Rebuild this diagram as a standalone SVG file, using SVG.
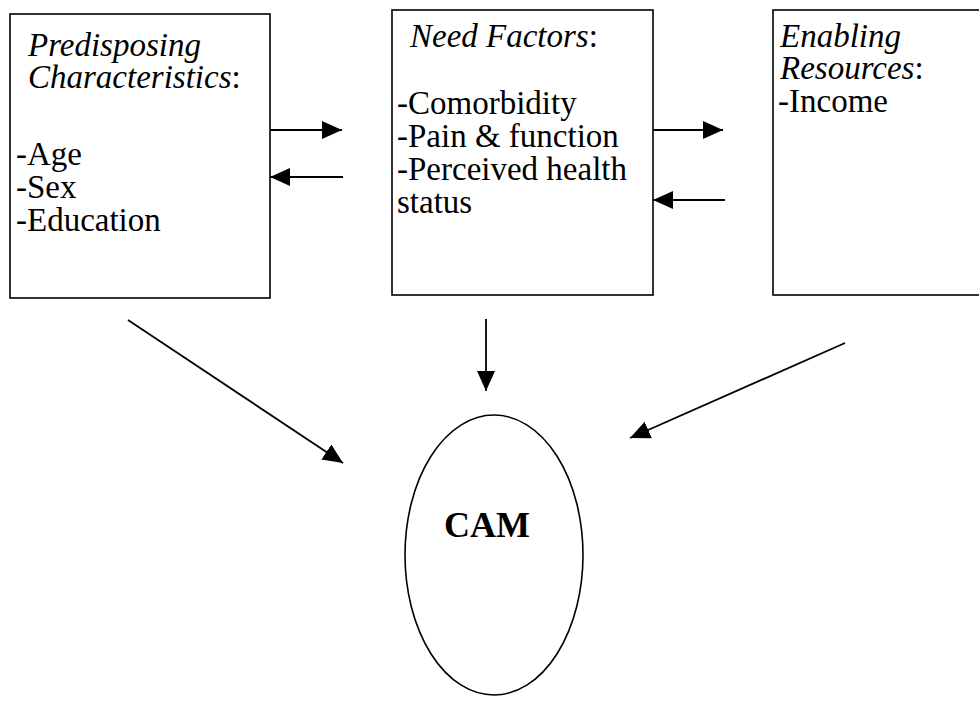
<svg xmlns="http://www.w3.org/2000/svg" width="979" height="701" viewBox="0 0 979 701">
  <style>
    .box { fill: #fff; stroke: #000; stroke-width: 1.6; }
    .txt { font-family: "Liberation Serif", "Times New Roman", serif; font-size: 33px; fill: #000; }
    .hd { font-style: italic; }
    .edge { stroke: #000; stroke-width: 1.8; fill: none; marker-end: url(#head); }
  </style>
  <defs>
    <marker id="head" markerUnits="userSpaceOnUse" markerWidth="22" markerHeight="20" refX="20" refY="9" orient="auto">
      <path d="M0,0 L20,9 L0,18 Z" fill="#000"/>
    </marker>
  </defs>
  <rect width="979" height="701" fill="#fff"/>

  <g id="predisposing">
    <rect class="box" x="10" y="14" width="260" height="284"/>
    <text class="txt hd" x="28" y="56">Predisposing</text>
    <text class="txt" x="28" y="88"><tspan class="hd">Characteristics</tspan>:</text>
    <text class="txt" x="16" y="165">-Age</text>
    <text class="txt" x="16" y="198">-Sex</text>
    <text class="txt" x="16" y="231">-Education</text>
  </g>

  <g id="need">
    <rect class="box" x="392" y="10" width="261" height="285"/>
    <text class="txt" x="410" y="47"><tspan class="hd">Need Factors</tspan>:</text>
    <text class="txt" x="397" y="114">-Comorbidity</text>
    <text class="txt" x="397" y="147">-Pain &amp; function</text>
    <text class="txt" x="397" y="180">-Perceived health</text>
    <text class="txt" x="397" y="213">status</text>
  </g>

  <g id="enabling">
    <rect class="box" x="773" y="10" width="220" height="285"/>
    <text class="txt hd" x="780" y="47">Enabling</text>
    <text class="txt" x="780" y="79"><tspan class="hd">Resources</tspan>:</text>
    <text class="txt" x="778" y="112">-Income</text>
  </g>

  <g id="cam">
    <ellipse cx="494" cy="555" rx="89" ry="140" fill="#fff" stroke="#000" stroke-width="1.6"/>
    <text x="487" y="537" text-anchor="middle" font-family="Liberation Serif, 'Times New Roman', serif" font-size="36" font-weight="bold">CAM</text>
  </g>

  <g id="connectors">
    <line class="edge" x1="270" y1="130" x2="342" y2="130"/>
    <line class="edge" x1="343" y1="177" x2="270" y2="177"/>
    <line class="edge" x1="653" y1="130" x2="723" y2="130"/>
    <line class="edge" x1="725" y1="200" x2="653" y2="200"/>
    <line class="edge" x1="128" y1="320" x2="343" y2="463"/>
    <line class="edge" x1="486" y1="319" x2="486" y2="391"/>
    <line class="edge" x1="845" y1="343" x2="630" y2="438"/>
  </g>
</svg>
